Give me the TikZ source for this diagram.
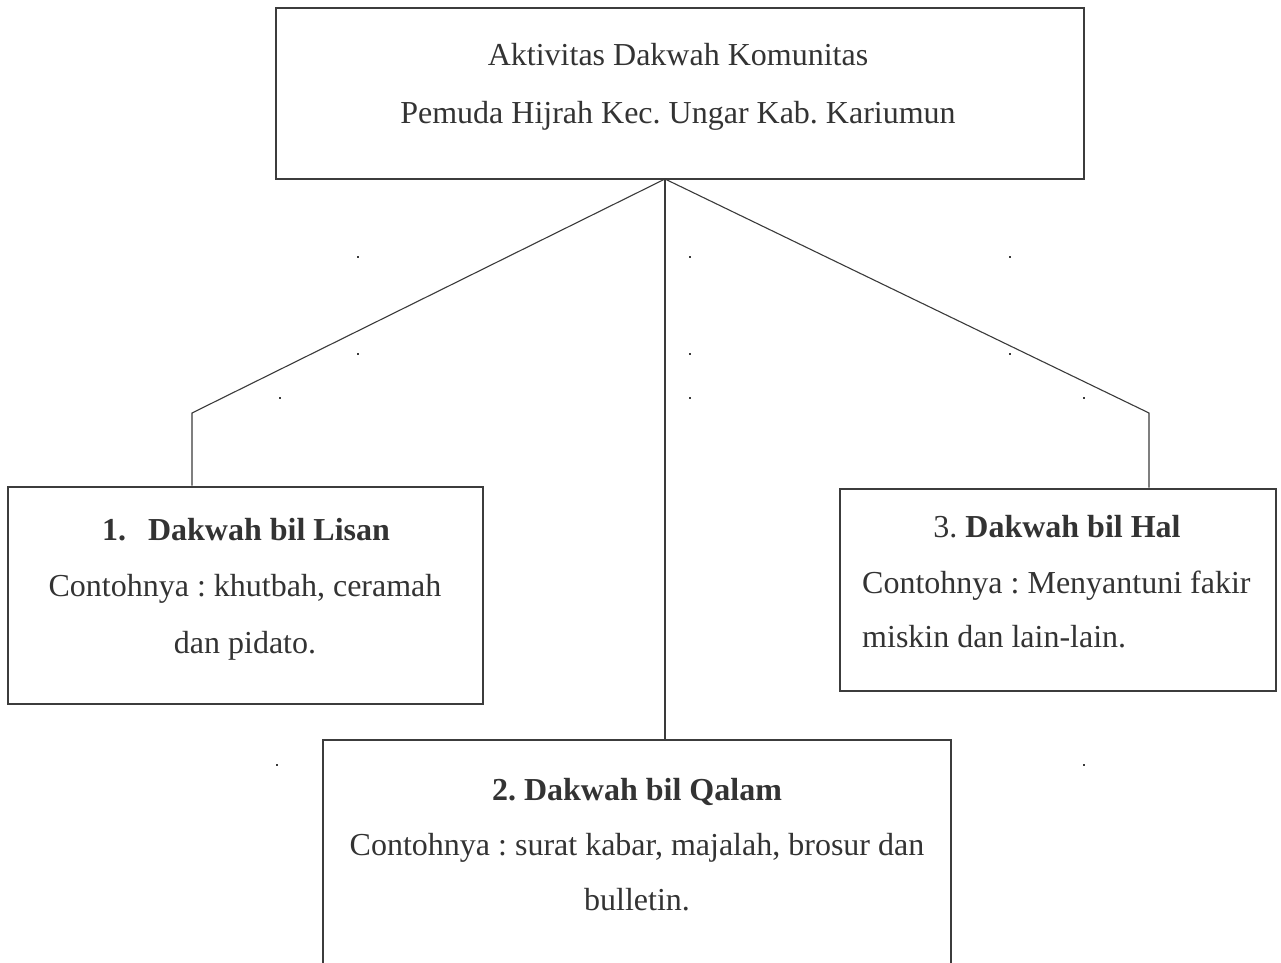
\documentclass[tikz,border=0pt]{standalone}
\usepackage{fontspec}
\setmainfont{Liberation Serif}
\frenchspacing
\begin{document}
\begin{tikzpicture}[x=1pt,y=-1pt,
  box/.style={draw=boxgray,line width=2.8pt,minimum width=#1,inner sep=0pt},
  conn/.style={draw=linegray,line width=1.1pt},
  txt/.style={text=textgray,font=\fontsize{32}{38}\selectfont\frenchspacing,inner sep=0pt,anchor=base},
  speck/.style={fill=linegray,minimum size=2.6pt,inner sep=0pt}]
\definecolor{boxgray}{HTML}{3C3C3C}
\definecolor{linegray}{HTML}{3A3A3A}
\definecolor{textgray}{HTML}{333333}
\useasboundingbox (0,0) rectangle (1281,962);
\clip (0,0) rectangle (1281,962);
% boxes
\node[box=808pt,minimum height=171pt] (top) at (680,93.5) {};
\node[box=475pt,minimum height=217pt] (b1) at (245.5,595.5) {};
\node[box=436pt,minimum height=202pt] (b3) at (1058,590) {};
\node[box=628pt,minimum height=280pt] (b2) at (637,880) {};
% texts
\node[txt] (t1) at (678,65) {Aktivitas Dakwah Komunitas};
\node[txt] (t2) at (678,123) {Pemuda Hijrah Kec. Ungar Kab. Kariumun};
\node[txt] (l1) at (246,540) {\bfseries 1.\hspace{22pt}Dakwah bil Lisan};
\node[txt] (l2) at (245,596) {Contohnya : khutbah, ceramah};
\node[txt] (l3) at (245,653) {dan pidato.};
\node[txt] (h1) at (1057,537) {3. \textbf{Dakwah bil Hal}};
\node[txt,anchor=base west] (h2) at (862,593) {Contohnya : Menyantuni fakir};
\node[txt,anchor=base west] (h3) at (862,647) {miskin dan lain-lain.};
\node[txt] (q1) at (637,800) {\bfseries 2. Dakwah bil Qalam};
\node[txt] (q2) at (637,855) {Contohnya : surat kabar, majalah, brosur dan};
\node[txt] (q3) at (637,910) {bulletin.};
% connectors
\coordinate (hub) at (665,179);
\coordinate (k1) at (192,413);
\coordinate (k3) at (1149,413);
\draw[conn] (hub) -- (k1) -- (k1 |- b1.north);
\draw[conn] (hub) -- (hub |- b2.north);
\draw[conn] (hub) -- (k3) -- (k3 |- b3.north);
% stray specks
\foreach \p [count=\i] in {(358,257),(690,257),(1010,257),(358,354),(690,354),(1010,354),(280,398),(690,398),(1084,398),(277,765),(1084,765)}
  \node[speck] (s\i) at \p {};
\end{tikzpicture}
\end{document}
